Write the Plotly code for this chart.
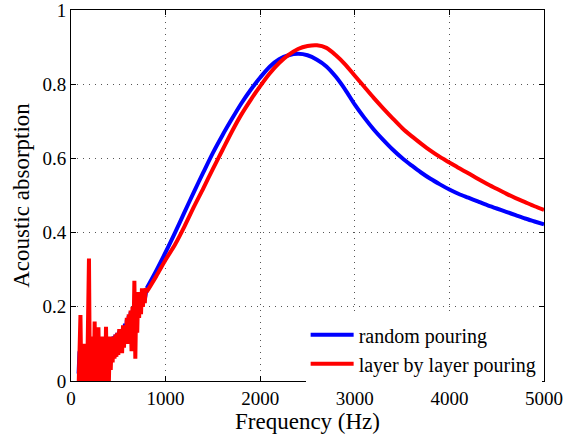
import plotly.graph_objects as go

# ---- data ----
freq_low = list(range(80, 800, 10))
freq_high = list(range(800, 5001, 100))

random_low = [0.02, 0.08, 0.03, 0.09, 0.01, 0.08, 0.02, 0.09, 0.01, 0.085,
              0.02, 0.10, 0.02, 0.09, 0.01, 0.10, 0.02, 0.09, 0.02, 0.10,
              0.03, 0.11, 0.03, 0.10, 0.02, 0.11, 0.04, 0.10, 0.03, 0.11,
              0.05, 0.10, 0.06, 0.11, 0.07, 0.115, 0.075, 0.12, 0.08, 0.125,
              0.085, 0.13, 0.09, 0.135, 0.10, 0.14, 0.105, 0.145, 0.11, 0.155,
              0.12, 0.165, 0.13, 0.175, 0.14, 0.185, 0.15, 0.19, 0.16, 0.21,
              0.17, 0.215, 0.18, 0.225, 0.19, 0.235, 0.20, 0.24, 0.21, 0.245,
              0.22, 0.25]
random_high = [0.25, 0.297, 0.347, 0.40, 0.455, 0.51, 0.563, 0.615, 0.662, 0.706,
               0.748, 0.785, 0.818, 0.847, 0.867, 0.878, 0.882, 0.878, 0.866, 0.848,
               0.82, 0.785, 0.745, 0.71, 0.678, 0.65, 0.624, 0.601, 0.581, 0.562,
               0.545, 0.530, 0.516, 0.504, 0.494, 0.484, 0.474, 0.465, 0.456, 0.447,
               0.438, 0.430, 0.422]

layer_low = [-0.02, 0.10, 0.178, -0.03, 0.09, -0.02, 0.10, -0.03, 0.085, -0.01,
             0.11, 0.33, -0.02, 0.10, -0.03, 0.12, -0.01, 0.16, -0.02, 0.10,
             0.0, 0.145, -0.02, 0.11, -0.01, 0.12, 0.0, 0.11, -0.02, 0.146,
             0.0, 0.10, -0.01, 0.12, 0.03, 0.11, 0.05, 0.12, 0.06, 0.125,
             0.065, 0.13, 0.07, 0.14, 0.08, 0.13, 0.075, 0.15, 0.09, 0.15,
             0.10, 0.17, 0.11, 0.18, 0.10, 0.19, 0.08, 0.20, 0.12, 0.27,
             0.06, 0.22, 0.13, 0.24, 0.17, 0.24, 0.18, 0.25, 0.20, 0.25,
             0.21, 0.25]
layer_high = [0.24, 0.282, 0.327, 0.368, 0.417, 0.47, 0.52, 0.572, 0.622, 0.672,
              0.718, 0.758, 0.795, 0.829, 0.857, 0.879, 0.895, 0.903, 0.905, 0.898,
              0.878, 0.853, 0.823, 0.793, 0.763, 0.735, 0.708, 0.682, 0.660, 0.640,
              0.621, 0.604, 0.589, 0.574, 0.560, 0.545, 0.531, 0.518, 0.505, 0.493,
              0.482, 0.471, 0.461]

series_names = ["random pouring", "layer by layer pouring"]
series_colors = ["#0000ff", "#ff0000"]

x_ticks = [0, 1000, 2000, 3000, 4000, 5000]
y_ticks = [0, 0.2, 0.4, 0.6, 0.8, 1]
y_tick_text = ["0", "0.2", "0.4", "0.6", "0.8", "1"]

FONT = "Liberation Serif"

fig = go.Figure()
for name, color, low, high in zip(series_names, series_colors,
                                  [random_low, layer_low],
                                  [random_high, layer_high]):
    # noisy low-frequency part (straight segments)
    fig.add_trace(go.Scatter(x=freq_low + freq_high[:1], y=low + high[:1],
                             mode="lines", name=name, legendgroup=name,
                             showlegend=False,
                             line=dict(color=color, width=4)))
    # smooth part
    fig.add_trace(go.Scatter(x=freq_high, y=high, mode="lines",
                             name=name, legendgroup=name,
                             line=dict(color=color, width=4,
                                       shape="spline", smoothing=0.8)))

axis_common = dict(
    showline=True, linecolor="black", linewidth=1, mirror="ticks",
    ticks="inside", ticklen=5, tickcolor="black", tickwidth=1,
    showgrid=True, gridcolor="#555555", griddash="1px,5px", gridwidth=1,
    zeroline=False, ticklabeloverflow="allow",
    tickfont=dict(family=FONT, size=19, color="black"),
)

fig.update_xaxes(range=[0, 5000], tickvals=x_ticks,
                 title=dict(text="Frequency (Hz)",
                            font=dict(family=FONT, size=23, color="black"),
                            standoff=2),
                 **axis_common)
fig.update_yaxes(range=[0, 1], tickvals=y_ticks, ticktext=y_tick_text,
                 title=dict(text="Acoustic absorption",
                            font=dict(family=FONT, size=23, color="black"),
                            standoff=6),
                 **axis_common)

fig.update_layout(
    width=580, height=441,
    margin=dict(l=71, r=36, t=10, b=60, autoexpand=False),
    paper_bgcolor="white", plot_bgcolor="white",
    font=dict(family=FONT, color="black"),
    legend=dict(x=0.995, y=-0.006, xanchor="right", yanchor="bottom",
                bgcolor="white", borderwidth=0,
                font=dict(family=FONT, size=20, color="black"),
                tracegroupgap=0, itemwidth=43),
    showlegend=True,
)

fig.write_html("out.html", config={"displayModeBar": False},
               post_script="document.body.style.margin='0';")
